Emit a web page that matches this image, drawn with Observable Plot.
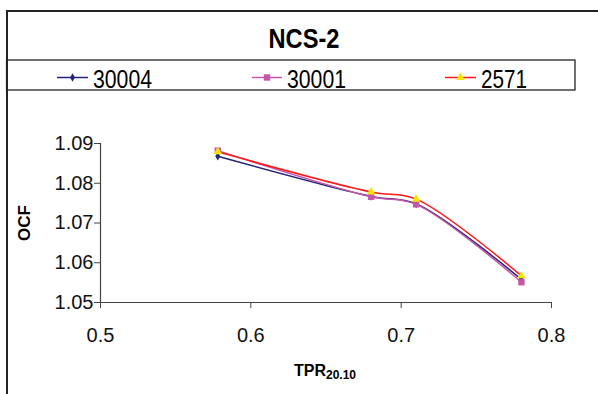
<!DOCTYPE html>
<html>
<head>
<meta charset="utf-8">
<script src="https://cdn.jsdelivr.net/npm/d3@7"></script>
<script src="https://cdn.jsdelivr.net/npm/@observablehq/plot@0.6"></script>
<style>
  html, body { margin: 0; padding: 0; background: #fff; }
  #wrap { position: relative; width: 598px; height: 394px; overflow: hidden; font-family: Arial, "Liberation Sans", sans-serif; }
  #head { position: absolute; left: 0; top: 0; z-index: 2; }
  #chart { position: absolute; left: 0; top: 90px; z-index: 1; }
  #leftline { position: absolute; left: 6px; top: 11px; width: 1.5px; height: 383px; background: #222; z-index: 3; }
</style>
</head>
<body>
<div id="wrap">
  <div id="head"></div>
  <div id="chart"></div>
  <div id="leftline"></div>
</div>
<script>
const title = "NCS-2";
const xLabel = "TPR";
const xLabelSub = "20.10";
const yLabel = "OCF";
const tpr = [0.578, 0.68, 0.71, 0.78];
const s30004 = [1.0868, 1.0767, 1.0748, 1.0558];
const s30001 = [1.0882, 1.0766, 1.0747, 1.0551];
const s2571 = [1.0879, 1.0778, 1.0760, 1.0567];
const seriesNames = ["30004", "30001", "2571"];
const xTicks = [0.5, 0.6, 0.7, 0.8];
const yTicks = [1.05, 1.06, 1.07, 1.08, 1.09];

const lineColors = {"30004": "#24247a", "30001": "#c455a8", "2571": "#ff1a1a"};
const markFill = {"30004": "#24247a", "30001": "#c455a8", "2571": "#f5e600"};
const markSym = {"30004": "diamond", "30001": "square", "2571": "triangle"};
const markR = {"30004": 2.6, "30001": 3.6, "2571": 3.2};

const valuesBySeries = {"30004": s30004, "30001": s30001, "2571": s2571};
const data = seriesNames.flatMap(s => tpr.map((x, i) => ({series: s, x, y: valuesBySeries[s][i]})));

// Header: frame, title, legend box
const head = d3.select("#head").append("svg").attr("width", 598).attr("height", 100).style("overflow", "visible");
head.append("line").attr("x1", 6).attr("x2", 598).attr("y1", 11).attr("y2", 11).attr("stroke", "#222").attr("stroke-width", 2);
head.append("rect").attr("x", 6.5).attr("y", 60).attr("width", 568.5).attr("height", 30)
  .attr("fill", "none").attr("stroke", "#111").attr("stroke-width", 1.2);
head.append("text").attr("x", 304).attr("y", 48).attr("text-anchor", "middle")
  .attr("font-size", 28).attr("font-weight", "bold").attr("font-family", "Arial, 'Liberation Sans', sans-serif")
  .attr("textLength", 71).attr("lengthAdjust", "spacingAndGlyphs").text(title);

const legendPos = [{s: "30004", x0: 57, x1: 88, tx: 93, w: 59}, {s: "30001", x0: 252, x1: 282, tx: 287, w: 59}, {s: "2571", x0: 445, x1: 476, tx: 481, w: 46}];
const sym = {diamond: d3.symbolDiamond, square: d3.symbolSquare, triangle: d3.symbolTriangle};
for (const p of legendPos) {
  head.append("line").attr("x1", p.x0).attr("x2", p.x1).attr("y1", 77.5).attr("y2", 77.5)
    .attr("stroke", lineColors[p.s]).attr("stroke-width", 1.5);
  const r = markR[p.s];
  head.append("path").attr("transform", `translate(${(p.x0 + p.x1) / 2},77.5)`)
    .attr("d", d3.symbol(sym[markSym[p.s]], Math.PI * r * r)())
    .attr("fill", markFill[p.s]);
  head.append("text").attr("x", p.tx).attr("y", 88).attr("font-size", 25)
    .attr("font-family", "Arial, 'Liberation Sans', sans-serif")
    .attr("textLength", p.w).attr("lengthAdjust", "spacingAndGlyphs").text(p.s);
}

const marks = [
  Plot.ruleX([0.5], {y1: 1.05, y2: 1.09, stroke: "#444", strokeWidth: 1.2}),
  Plot.ruleY([1.05], {x1: 0.5, x2: 0.8, stroke: "#444", strokeWidth: 1.2}),
  Plot.axisY({ticks: yTicks, tickSize: 6, tickPadding: 1, label: null, tickFormat: d => d.toFixed(2), stroke: "#444", fill: "#111"}),
  Plot.axisX({ticks: xTicks, tickSize: 6, tickPadding: 19, label: null, tickFormat: d => d.toFixed(1), stroke: "#444", fill: "#111"}),
];
for (const s of seriesNames) {
  const d = data.filter(r => r.series === s);
  marks.push(Plot.line(d, {x: "x", y: "y", stroke: lineColors[s], strokeWidth: 1.5, curve: "catmull-rom"}));
}
for (const s of seriesNames) {
  const d = data.filter(r => r.series === s);
  marks.push(Plot.dot(d, {x: "x", y: "y", symbol: markSym[s], r: markR[s], fill: markFill[s], stroke: "none"}));
}

const plot = Plot.plot({
  width: 598,
  height: 304,
  marginLeft: 100,
  marginRight: 47,
  marginTop: 53,
  marginBottom: 92,
  style: {fontFamily: "Arial, 'Liberation Sans', sans-serif", fontSize: "20px", background: "transparent", color: "#111", overflow: "visible"},
  x: {domain: [0.5, 0.8]},
  y: {domain: [1.05, 1.09]},
  marks
});
document.getElementById("chart").appendChild(plot);

const svg = d3.select(plot);
svg.append("text").attr("transform", "translate(24,133) rotate(-90)")
  .attr("text-anchor", "middle").attr("dy", "0.35em")
  .attr("font-size", 17).attr("font-weight", "bold").attr("fill", "#000").text(yLabel);
const xl = svg.append("text").attr("x", 325).attr("y", 286).attr("text-anchor", "middle")
  .attr("font-weight", "bold").attr("fill", "#000");
xl.append("tspan").attr("font-size", 16).text(xLabel);
xl.append("tspan").attr("font-size", 12).attr("dy", 3).text(xLabelSub);
</script>
</body>
</html>
